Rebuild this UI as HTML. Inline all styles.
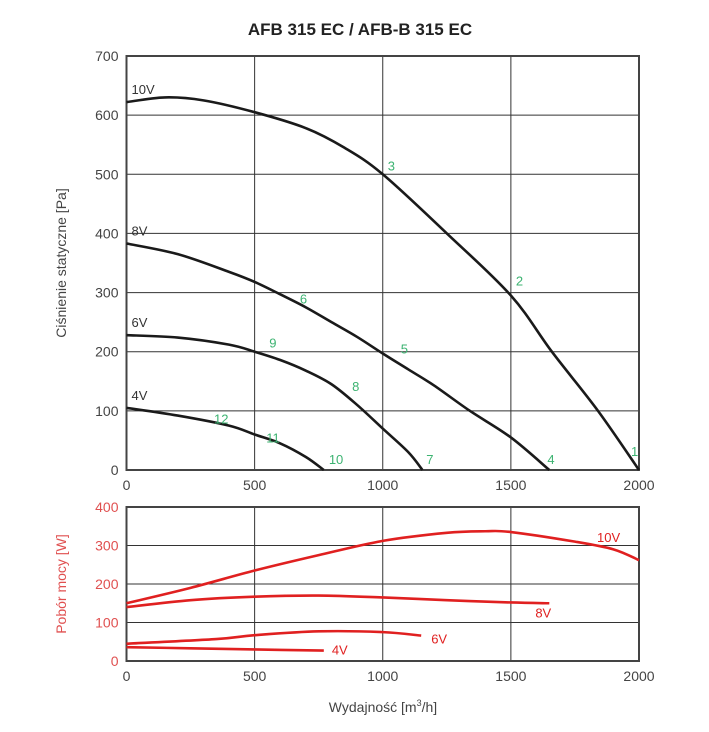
<!DOCTYPE html>
<html><head><meta charset="utf-8"><style>
body{margin:0;background:#fff;}
svg text{font-family:"Liberation Sans",sans-serif;}
</style></head><body>
<svg id="c" width="709" height="727" xmlns="http://www.w3.org/2000/svg">
<text x="360" y="35" text-anchor="middle" font-size="17" font-weight="bold" fill="#222">AFB 315 EC / AFB-B 315 EC</text>
<g id="top"></g><g id="bot"></g>
<text transform="translate(66,263) rotate(-90)" text-anchor="middle" font-size="14" fill="#444">Ciśnienie statyczne [Pa]</text>
<text transform="translate(66,584) rotate(-90)" text-anchor="middle" font-size="14" fill="#e05050">Pobór mocy [W]</text>
<text x="383" y="712" text-anchor="middle" font-size="14" fill="#444">Wydajność [m<tspan dy="-6" font-size="9">3</tspan><tspan dy="6">/h]</tspan></text>
</svg>
<script>
const xTicks=[0,500,1000,1500,2000];
const pTicks=[0,100,200,300,400,500,600,700];
const wTicks=[0,100,200,300,400];
const p10=[[0,622],[150,630],[300,625],[500,605],[700,578],[850,545],[1000,500],[1250,400],[1500,295],[1660,200],[1840,100],[2000,0]];
const p8=[[0,383],[200,365],[400,335],[500,318],[600,297],[700,275],[800,250],[900,225],[1000,197],[1100,170],[1200,143],[1340,100],[1500,55],[1650,0]];
const p6=[[0,228],[200,224],[400,212],[500,200],[600,186],[700,168],[800,145],[900,110],[1000,70],[1100,30],[1155,0]];
const p4=[[0,105],[200,92],[400,75],[500,60],[600,45],[700,22],[770,0]];
const w10=[[0,150],[250,190],[500,235],[750,275],[1000,312],[1250,333],[1400,337],[1500,335],[1750,310],[1900,290],[2000,262]];
const w8=[[0,140],[250,158],[500,167],[750,170],[1000,165],[1250,158],[1500,152],[1650,150]];
const w6=[[0,45],[350,57],[500,67],[750,77],[1000,75],[1150,66]];
const w4=[[0,36],[250,33],[500,30],[770,27]];
const pts=[["1",2000,0],["2",1500,295],["3",1000,500],["4",1650,0],["5",1000,197],["6",700,275],["7",1150,0],["8",900,130],["9",600,200],["10",770,0],["11",600,45],["12",400,75]];
const ptOff={"1":[-8,-14],"2":[5,-10],"3":[5,-4],"4":[-2,-6],"5":[18,0],"6":[-6,-4],"7":[5,-6],"8":[-5,-2],"9":[-11,-4],"10":[5,-6],"11":[-14,-1],"12":[-15,-2]};
const NS="http://www.w3.org/2000/svg";
const X0=126.5,X1=639;
const T={top:56,bot:470,max:700},B={top:507,bot:661,max:400};
const sx=v=>X0+v/2000*(X1-X0);
const sy=(a,v)=>a.bot-v/a.max*(a.bot-a.top);
function mk(tag,at,parent){const e=document.createElementNS(NS,tag);for(const k in at)e.setAttribute(k,at[k]);parent.appendChild(e);return e;}
function smooth(p){let d="M"+p[0][0]+","+p[0][1];for(let i=0;i<p.length-1;i++){const p0=p[i-1]||p[i],p1=p[i],p2=p[i+1],p3=p[i+2]||p2;d+=" C"+(p1[0]+(p2[0]-p0[0])/6)+","+(p1[1]+(p2[1]-p0[1])/6)+" "+(p2[0]-(p3[0]-p1[0])/6)+","+(p2[1]-(p3[1]-p1[1])/6)+" "+p2[0]+","+p2[1];}return d;}
function axes(g,a,ticks,col,name){
  ticks.forEach(t=>{const l=mk("line",{x1:X0,x2:X1,y1:sy(a,t),y2:sy(a,t),stroke:"#333","stroke-width":1},g);
    
    const tx=mk("text",{x:X0-8,y:sy(a,t)+5,"text-anchor":"end","font-size":14,fill:col},g);tx.textContent=t;
    });
  xTicks.forEach(t=>{const l=mk("line",{x1:sx(t),x2:sx(t),y1:a.top,y2:a.bot,stroke:"#333","stroke-width":1},g);
    
    const tx=mk("text",{x:sx(t),y:a.bot+20,"text-anchor":"middle","font-size":14,fill:"#444"},g);tx.textContent=t;
    });
  const r=mk("rect",{x:X0,y:a.top,width:X1-X0,height:a.bot-a.top,fill:"none",stroke:"#444","stroke-width":2},g);
  
}
const gt=document.getElementById("top"),gb=document.getElementById("bot");
axes(gt,T,pTicks,"#444","pressure");axes(gb,B,wTicks,"#e05050","power");
function curve(g,a,data,col,name){const p=mk("path",{d:smooth(data.map(d=>[sx(d[0]),sy(a,d[1])])),fill:"none",stroke:col,"stroke-width":2.6},g);
  }
[[p10,"10V"],[p8,"8V"],[p6,"6V"],[p4,"4V"]].forEach(([d,n])=>{curve(gt,T,d,"#1a1a1a","pressure-curve-"+n);
  const t=mk("text",{x:X0+5,y:sy(T,d[0][1])-8,"font-size":13,fill:"#333"},gt);t.textContent=n;
  });
[[w10,"10V",[-42,-18]],[w8,"8V",[-14,14]],[w6,"6V",[10,8]],[w4,"4V",[8,4]]].forEach(([d,n,o])=>{curve(gb,B,d,"#e02020","power-curve-"+n);
  const l=d[d.length-1];const t=mk("text",{x:sx(l[0])+o[0],y:sy(B,l[1])+o[1],"font-size":13,fill:"#e02020"},gb);t.textContent=n;
  });
pts.forEach(([n,x,y])=>{const o=ptOff[n];const t=mk("text",{x:sx(x)+o[0],y:sy(T,y)+o[1],"font-size":13,fill:"#3cb371"},gt);t.textContent=n;
  });
</script>
</body></html>
